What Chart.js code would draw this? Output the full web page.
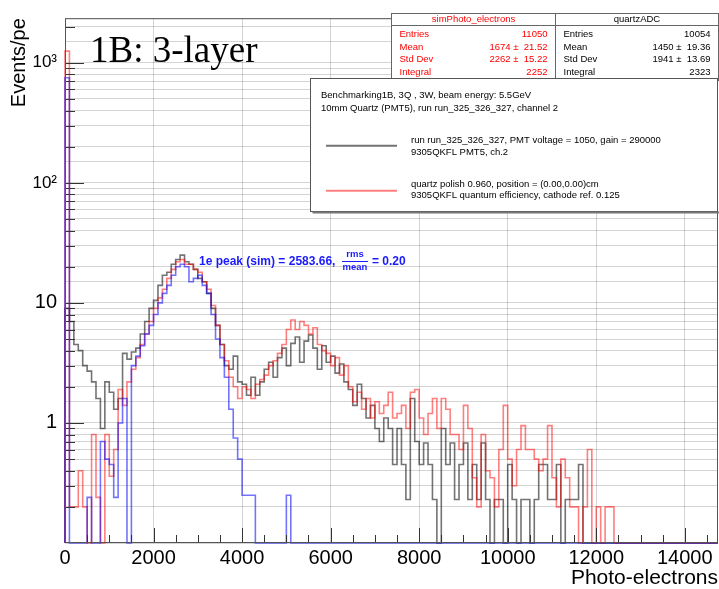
<!DOCTYPE html>
<html>
<head>
<meta charset="utf-8">
<script src="https://cdn.jsdelivr.net/npm/chart.js@4.4.1/dist/chart.umd.min.js"></script>
<style>
  html, body { margin: 0; padding: 0; background: #fff; }
  #contenedor { width: 719px; height: 589px; }
</style>
</head>
<body>
<div id="contenedor"><canvas id="grafica" width="719" height="589"></canvas></div>
<script>
// Rango y binning de los histogramas (photo-electrons, bins de 100 pe)
const binWidth = 100;
const xMin = 0;
const xMax = 14750;
const yMin = 0.1;
const yMax = 2350;

const xEtiquetas = [0, 2000, 4000, 6000, 8000, 10000, 12000, 14000];
const yDecadas = [1, 10, 100, 1000];
const yEtiquetas = ['1', '10', '10\u00b2', '10\u00b3'];

// quartzADC (datos, run_325_326_327), Events/pe por bin
const quartzADC = [
  9, 7, 4.5, 4, 3, 2.7, 2.2, 1.6, 0.9, 2.2,
  1.8, 1.3, 1.6, 3.8, 3.4, 3.9, 4.2, 5.5, 7, 9,
  10.5, 14, 17, 18, 21, 23, 25, 22, 21, 19,
  16, 15, 12, 9, 6.5, 4.5, 3, 2.8, 3.6, 2.2,
  2.1, 1.7, 2.4, 1.7, 2.2, 2.8, 3.2, 2.4, 3.5, 4.2,
  3, 4.6, 5.2, 3.2, 4.8, 5.4, 4.2, 2.8, 4.4, 3.2,
  3.6, 2.6, 3.1, 2.2, 1.9, 1.4, 2.1, 1.6, 1.1, 1.4,
  0.9, 0.7, 1.1, 0.9, 0.45, 0.9, 0.45, 0.23, 1.6, 0.7,
  0.45, 0.68, 0.45, 0.23, 0, 0.9, 0.45, 0.68, 0.23, 0.45,
  0.68, 0.23, 0.45, 0.23, 0.68, 0.23, 0, 0.23, 0.23, 0,
  0.45, 0.23, 0, 0.23, 0.23, 0, 0.23, 0.45, 0.45, 0.23,
  0.23, 0.45, 0, 0.23, 0.23, 0.23, 0.45, 0
];

// simPhoto_electrons (simulación)
const simPhotoElectrons = [
  1250, 0.2, 0.2, 0.4, 0.2, 0, 0.8, 0.24, 0, 0.8,
  0.36, 0.6, 1.9, 1.4, 2.2, 2.8, 3.5, 4.5, 5.5, 7,
  9, 11, 13, 16, 19, 22, 23, 21, 21, 19,
  18, 15, 13, 9.5, 6.5, 4.5, 3.3, 2.4, 2, 1.6,
  2, 1.9, 1.6, 2.1, 2.3, 2.5, 3, 3.3, 3.8, 4.5,
  6, 7.2, 6, 7, 6.5, 5.5, 6.2, 4.5, 4, 3.8,
  3, 3.5, 2.5, 3, 2, 1.5, 1.8, 1.3, 1.6, 1.1,
  1.5, 1.2, 1.4, 1.8, 1.1, 1.2, 1.4, 0.9, 1.8, 1.9,
  1.1, 0.8, 1.2, 1.6, 0.9, 1.6, 1.3, 0.8, 0.8, 0.6,
  1.4, 0.9, 0.35, 0.2, 0.8, 0.4, 0.35, 0.2, 0.6, 1.4,
  0.5, 0.3, 0.6, 0.95, 0.6, 0.6, 0.5, 0.4, 0.5, 0.95,
  0.35, 0.2, 0.5, 0.35, 0.2, 0.2, 0, 0.2, 0.6, 0,
  0.2, 0, 0.2, 0.2, 0
];

// pico de 1 fotoelectrón (sim)
const simPico1e = [
  750, 0, 0, 0, 0, 0.24, 0, 0, 0.7, 0.5,
  0.45, 0.24, 1.0, 1.6, 0, 3, 3.6, 4.4, 5.5, 6.5,
  8, 10, 12, 14, 17, 20, 21, 20, 15, 16,
  17, 14, 12, 8, 5, 3.5, 2.4, 1.3, 0.75, 0.5,
  0.25, 0.25, 0.25, 0, 0, 0, 0, 0, 0, 0,
  0.25
];

const negro = 'rgba(0,0,0,0.55)';
const rojo = 'rgba(255,0,0,0.5)';
const azul = 'rgba(0,0,255,0.55)';
const colorGrid = 'rgba(0,0,0,0.17)';
const fuente = '"Liberation Sans", Arial, Helvetica, sans-serif';

// Convierte los contenidos de bin en puntos escalonados (borde izquierdo de cada bin)
function puntosHistograma(valores) {
  const puntos = [{ x: xMin, y: yMin }];
  let ultimo = yMin;
  for (let i = 0; i * binWidth < xMax; i++) {
    const v = valores[i] > 0 ? valores[i] : yMin;  // bins vacíos se dibujan sobre el eje
    puntos.push({ x: xMin + i * binWidth, y: v });
    ultimo = v;
  }
  puntos.push({ x: xMax, y: ultimo });
  return puntos;
}

function esDecada(v) {
  const l = Math.log10(v);
  return Math.abs(l - Math.round(l)) < 1e-6;
}

function esTickLog(v) {
  const m = v / Math.pow(10, Math.floor(Math.log10(v) + 1e-9));
  return Math.abs(m - Math.round(m)) < 1e-6;
}

// Caja de estadísticas estilo ROOT
function cajaStats(ctx, x0, x1, titulo, filas, color) {
  const y0 = 13.5, y1 = 80.5;
  ctx.fillStyle = '#fff';
  ctx.fillRect(x0, y0, x1 - x0, y1 - y0);
  ctx.strokeStyle = '#666';
  ctx.lineWidth = 1;
  ctx.strokeRect(x0, y0, x1 - x0, y1 - y0);
  ctx.beginPath();
  ctx.moveTo(x0, 25.5);
  ctx.lineTo(x1, 25.5);
  ctx.stroke();
  ctx.fillStyle = color;
  ctx.font = '9.5px ' + fuente;
  ctx.textBaseline = 'middle';
  ctx.textAlign = 'center';
  ctx.fillText(titulo, (x0 + x1) / 2, 19.5);
  filas.forEach(function (f, i) {
    const yy = 34 + i * 12.9;
    ctx.textAlign = 'left';
    ctx.fillText(f[0], x0 + 8, yy);
    ctx.textAlign = 'right';
    ctx.fillText(f[1], x1 - 8, yy);
  });
}

const dibujoRoot = {
  id: 'dibujoRoot',
  afterDatasetsDraw(chart) {
    const { ctx, chartArea: a, scales: { x, y } } = chart;
    ctx.save();
    ctx.strokeStyle = '#333';
    ctx.lineWidth = 1;
    ctx.beginPath();
    // ticks del eje X hacia dentro
    for (let v = xMin; v <= xMax; v += 500) {
      const px = Math.round(x.getPixelForValue(v)) + 0.5;
      const largo = v % 2000 === 0 ? 15 : 8;
      ctx.moveTo(px, a.bottom);
      ctx.lineTo(px, a.bottom - largo);
    }
    // ticks del eje Y (log) hacia dentro
    y.ticks.forEach(function (t) {
      if (!esTickLog(t.value) || t.value <= yMin * 1.0001) return;
      const py = Math.round(y.getPixelForValue(t.value)) + 0.5;
      const largo = esDecada(t.value) ? 19 : 10;
      ctx.moveTo(a.left, py);
      ctx.lineTo(a.left + largo, py);
    });
    ctx.stroke();
    // marco
    ctx.strokeStyle = '#555';
    ctx.strokeRect(a.left + 0.5, a.top + 0.5, a.right - a.left - 1, a.bottom - a.top - 1);
    ctx.restore();
  },
  afterDraw(chart) {
    const ctx = chart.ctx;
    ctx.save();

    // título del panel
    ctx.fillStyle = '#000';
    ctx.font = '37px "Liberation Serif", "Times New Roman", serif';
    ctx.textAlign = 'left';
    ctx.textBaseline = 'alphabetic';
    ctx.fillText('1B: 3-layer', 90, 62);

    // cajas de estadísticas
    cajaStats(ctx, 391.5, 555.5, 'simPhoto_electrons', [
      ['Entries', '11050'],
      ['Mean', '1674 \u00b1  21.52'],
      ['Std Dev', '2262 \u00b1  15.22'],
      ['Integral', '2252']
    ], '#ff0000');
    cajaStats(ctx, 555.5, 718.5, 'quartzADC', [
      ['Entries', '10054'],
      ['Mean', '1450 \u00b1  19.36'],
      ['Std Dev', '1941 \u00b1  13.69'],
      ['Integral', '2323']
    ], '#000');

    // leyenda
    const lx0 = 310.5, ly0 = 78.5, lx1 = 717.5, ly1 = 211.5;
    ctx.fillStyle = '#fff';
    ctx.fillRect(lx0, ly0, lx1 - lx0, ly1 - ly0);
    ctx.strokeStyle = '#555';
    ctx.lineWidth = 1;
    ctx.strokeRect(lx0, ly0, lx1 - lx0, ly1 - ly0);
    ctx.fillStyle = '#777';
    ctx.fillRect(lx0 + 2, ly1, lx1 - lx0, 2);
    ctx.fillStyle = '#000';
    ctx.font = '9.5px ' + fuente;
    ctx.textAlign = 'left';
    ctx.textBaseline = 'middle';
    ctx.fillText('Benchmarking1B, 3Q , 3W, beam energy: 5.5GeV', 321, 95.7);
    ctx.fillText('10mm Quartz (PMT5), run run_325_326_327, channel 2', 321, 108.3);
    ctx.fillText('run run_325_326_327, PMT voltage = 1050, gain = 290000', 411, 140);
    ctx.fillText('9305QKFL PMT5, ch.2', 411, 152.3);
    ctx.fillText('quartz polish 0.960, position = (0.00,0.00)cm', 411, 184);
    ctx.fillText('9305QKFL quantum efficiency, cathode ref. 0.125', 411, 195.7);
    ctx.lineWidth = 2;
    ctx.strokeStyle = negro;
    ctx.beginPath(); ctx.moveTo(326, 145.7); ctx.lineTo(397, 145.7); ctx.stroke();
    ctx.strokeStyle = rojo;
    ctx.beginPath(); ctx.moveTo(326, 190.7); ctx.lineTo(397, 190.7); ctx.stroke();

    // anotación del pico de 1 pe
    const azulTexto = '#1a1aff';
    ctx.fillStyle = azulTexto;
    ctx.font = 'bold 12px ' + fuente;
    ctx.textAlign = 'left';
    ctx.fillText('1e peak (sim) = 2583.66,', 199, 261.5);
    ctx.font = 'bold 9.5px ' + fuente;
    ctx.textAlign = 'center';
    ctx.fillText('rms', 355, 254.5);
    ctx.fillText('mean', 355, 267.5);
    ctx.strokeStyle = azulTexto;
    ctx.lineWidth = 1;
    ctx.beginPath(); ctx.moveTo(342, 261.5); ctx.lineTo(368, 261.5); ctx.stroke();
    ctx.font = 'bold 12px ' + fuente;
    ctx.textAlign = 'left';
    ctx.fillText('= 0.20', 372, 261.5);

    ctx.restore();
  }
};

const comunes = { stepped: true, pointRadius: 0, borderWidth: 1.6, fill: false, clip: false, borderJoinStyle: 'miter' };

new Chart(document.getElementById('grafica'), {
  type: 'line',
  data: {
    datasets: [
      Object.assign({ label: '1e (sim)', data: puntosHistograma(simPico1e), borderColor: azul }, comunes),
      Object.assign({ label: 'simPhoto_electrons', data: puntosHistograma(simPhotoElectrons), borderColor: rojo }, comunes),
      Object.assign({ label: 'quartzADC', data: puntosHistograma(quartzADC), borderColor: negro }, comunes)
    ]
  },
  options: {
    responsive: false,
    animation: false,
    layout: { padding: { top: 14, right: 1, left: 0, bottom: 0 } },
    plugins: { legend: { display: false }, tooltip: { enabled: false } },
    scales: {
      x: {
        type: 'linear',
        min: xMin,
        max: xMax,
        afterBuildTicks: function (s) { s.ticks = xEtiquetas.map(v => ({ value: v })); },
        afterFit: function (s) { s.height = 46; },
        border: { display: false },
        grid: { color: colorGrid, drawTicks: false },
        ticks: {
          autoSkip: false, maxRotation: 0,
          padding: 3, color: '#000', font: { family: fuente, size: 20 },
          callback: function (v) { return String(v); }
        },
        title: {
          display: true, text: 'Photo-electrons', align: 'end', color: '#000',
          font: { family: fuente, size: 21, lineHeight: 1 }, padding: { top: 0, bottom: 0 }
        }
      },
      y: {
        type: 'logarithmic',
        min: yMin,
        max: yMax,
        afterFit: function (s) { s.width = 65; },
        border: { display: false },
        grid: { color: colorGrid, drawTicks: false },
        ticks: {
          autoSkip: false, padding: 8, color: '#000',
          font: function (c) {
            const v = c.tick ? c.tick.value : 1;
            return { family: fuente, size: v >= 99 ? 17 : 20 };
          },
          callback: function (v) {
            const i = yDecadas.findIndex(d => Math.abs(d - v) < 1e-6 * d);
            return i >= 0 ? yEtiquetas[i] : '';
          }
        },
        title: {
          display: true, text: 'Events/pe', align: 'end', color: '#000',
          font: { family: fuente, size: 20, lineHeight: 1 }, padding: { top: 9, bottom: 0 }
        }
      }
    }
  },
  plugins: [dibujoRoot]
});
</script>
</body>
</html>
